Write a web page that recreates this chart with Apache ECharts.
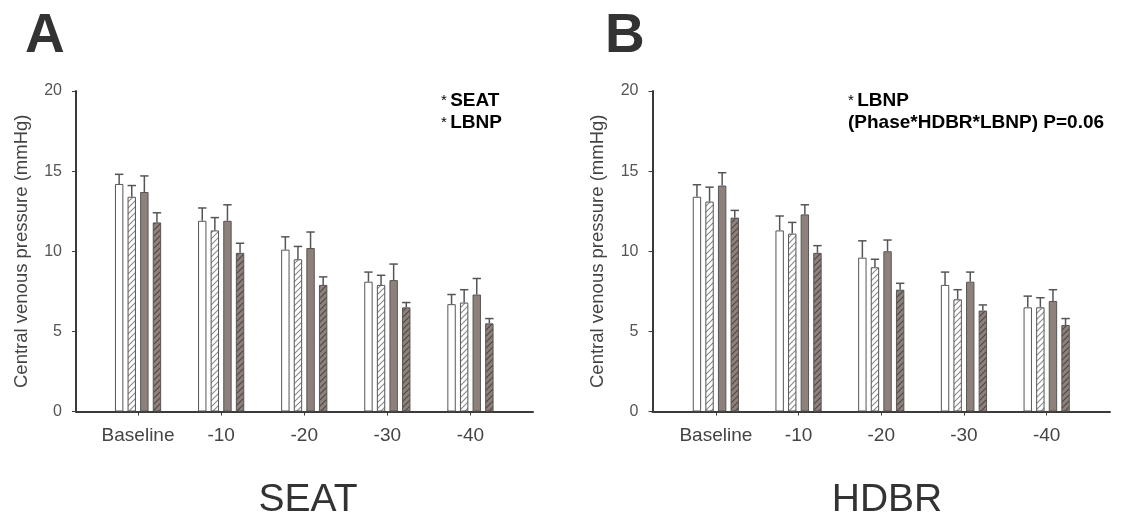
<!DOCTYPE html>
<html>
<head>
<meta charset="utf-8">
<script src="https://cdn.jsdelivr.net/npm/echarts@6/dist/echarts.min.js"></script>
<style>
  html, body { margin: 0; padding: 0; background: #fff; }
  #chart { width: 1128px; height: 522px; }
</style>
</head>
<body>
<div id="chart"></div>
<script>
// data
var categories = ["Baseline", "-10", "-20", "-30", "-40"];
var yTicks = [0, 5, 10, 15, 20];

// SEAT panel, four groups of bars (means) and error (SD)
var seatMean1 = [14.2, 11.9, 10.1, 8.1, 6.7];
var seatMean2 = [13.4, 11.3, 9.5, 7.9, 6.8];
var seatMean3 = [13.7, 11.9, 10.2, 8.2, 7.3];
var seatMean4 = [11.8, 9.9, 7.9, 6.5, 5.5];
var seatSd1 = [0.6, 0.8, 0.8, 0.6, 0.6];
var seatSd2 = [0.7, 0.8, 0.8, 0.6, 0.8];
var seatSd3 = [1.0, 1.0, 1.0, 1.0, 1.0];
var seatSd4 = [0.6, 0.6, 0.5, 0.3, 0.3];

// HDBR panel
var hdbrMean1 = [13.4, 11.3, 9.6, 7.9, 6.5];
var hdbrMean2 = [13.1, 11.1, 9.0, 7.0, 6.5];
var hdbrMean3 = [14.1, 12.3, 10.0, 8.1, 6.9];
var hdbrMean4 = [12.1, 9.9, 7.6, 6.3, 5.4];
var hdbrSd1 = [0.75, 0.9, 1.05, 0.8, 0.7];
var hdbrSd2 = [0.9, 0.7, 0.5, 0.6, 0.6];
var hdbrSd3 = [0.8, 0.6, 0.7, 0.6, 0.7];
var hdbrSd4 = [0.45, 0.45, 0.4, 0.35, 0.4];

var FONT = "Liberation Sans, Arial, sans-serif";
var DARK = "#3a3a3a";
var BROWN = "#8e817c";
var BAR_W = 8.4;
var BAR_GAP = 0.5;

function hatch(bg, line) {
  var c = document.createElement("canvas");
  c.width = 6;
  c.height = 6;
  var ctx = c.getContext("2d");
  ctx.fillStyle = bg;
  ctx.fillRect(0, 0, 6, 6);
  ctx.strokeStyle = line;
  ctx.lineWidth = 1.1;
  ctx.beginPath();
  ctx.moveTo(-1, 7); ctx.lineTo(7, -1);
  ctx.moveTo(-1, 1); ctx.lineTo(1, -1);
  ctx.moveTo(5, 7); ctx.lineTo(7, 5);
  ctx.stroke();
  return { image: c, repeat: "repeat" };
}

var barStyles = [
  { color: "#ffffff", borderColor: "#555", borderWidth: 1 },
  { color: hatch("#ffffff", "#8a8a8a"), borderColor: "#555", borderWidth: 1 },
  { color: BROWN, borderColor: "#555", borderWidth: 1 },
  { color: hatch(BROWN, "#4e4643"), borderColor: "#555", borderWidth: 1 }
];

function errorSeries(xIdx, yIdx, k, means, sds) {
  var data = [];
  for (var i = 0; i < means.length; i++) data.push([i, means[i], sds[i]]);
  return {
    type: "custom",
    xAxisIndex: xIdx,
    yAxisIndex: yIdx,
    z: 5,
    silent: true,
    data: data,
    renderItem: function (params, api) {
      var pitch = BAR_W * (1 + BAR_GAP);
      var base = api.coord([api.value(0), api.value(1)]);
      var top = api.coord([api.value(0), api.value(1) + api.value(2)]);
      var x = base[0] + (k - 1.5) * pitch;
      var st = { stroke: "#555", lineWidth: 1.5 };
      return {
        type: "group",
        children: [
          { type: "line", shape: { x1: x, y1: base[1], x2: x, y2: top[1] }, style: st },
          { type: "line", shape: { x1: x - BAR_W / 2, y1: top[1], x2: x + BAR_W / 2, y2: top[1] }, style: st }
        ]
      };
    }
  };
}

function panelSeries(xIdx, yIdx, means, sds) {
  var out = [];
  for (var k = 0; k < 4; k++) {
    out.push({
      type: "bar",
      xAxisIndex: xIdx,
      yAxisIndex: yIdx,
      data: means[k],
      barWidth: BAR_W,
      barGap: BAR_GAP * 100 + "%",
      itemStyle: barStyles[k],
      silent: true
    });
  }
  for (var k2 = 0; k2 < 4; k2++) out.push(errorSeries(xIdx, yIdx, k2, means[k2], sds[k2]));
  return out;
}

function outerX(gi) {
  return {
    type: "value", gridIndex: gi, min: 0, max: 1,
    axisLine: { show: true, lineStyle: { color: DARK, width: 2 } },
    axisTick: { show: false }, axisLabel: { show: false }, splitLine: { show: false }
  };
}
function innerX(gi) {
  return {
    type: "category", gridIndex: gi, data: categories,
    axisLine: { show: false },
    axisTick: { show: true, alignWithLabel: true, interval: 0, length: 4, lineStyle: { color: DARK, width: 1 } },
    axisLabel: { color: "#444", fontSize: 19, fontFamily: FONT, margin: 15, interval: 0, hideOverlap: false },
    splitLine: { show: false }
  };
}
function outerY(gi) {
  return {
    type: "value", gridIndex: gi, min: 0, max: 20, interval: 5,
    name: "Central venous pressure (mmHg)", nameLocation: "middle", nameGap: 45,
    nameTextStyle: { color: "#444", fontSize: 18.5, fontFamily: FONT },
    axisLine: { show: true, lineStyle: { color: DARK, width: 2 } },
    axisTick: { show: true, length: 4, lineStyle: { color: DARK, width: 1 } },
    axisLabel: { color: "#555", fontSize: 16, fontFamily: FONT, margin: 14,
      formatter: function (v) { return yTicks.indexOf(v) >= 0 ? String(v) : ""; } },
    splitLine: { show: false }
  };
}
function innerY(gi) {
  return {
    type: "value", gridIndex: gi, min: 0, max: 20, interval: 5, show: false,
    splitLine: { show: false }
  };
}

var chart = echarts.init(document.getElementById("chart"), null, { renderer: "canvas" });

var option = {
  animation: false,
  backgroundColor: "#ffffff",
  grid: [
    { left: 76, top: 91, width: 457, height: 320.5 },
    { left: 96.5, top: 91, width: 415.5, height: 320.5 },
    { left: 652.5, top: 91, width: 457.5, height: 320.5 },
    { left: 674.5, top: 91, width: 413.5, height: 320.5 }
  ],
  xAxis: [outerX(0), innerX(1), outerX(2), innerX(3)],
  yAxis: [outerY(0), innerY(1), outerY(2), innerY(3)],
  title: [
    { text: "A", left: 20, top: 4, textStyle: { fontSize: 55, fontWeight: "bold", color: "#333", fontFamily: FONT } },
    { text: "B", left: 600, top: 4, textStyle: { fontSize: 55, fontWeight: "bold", color: "#333", fontFamily: FONT } },
    { text: "SEAT", left: 303, top: 476, textAlign: "center", textStyle: { fontSize: 39, fontWeight: "normal", color: "#333", fontFamily: FONT } },
    { text: "HDBR", left: 882, top: 476, textAlign: "center", textStyle: { fontSize: 39, fontWeight: "normal", color: "#333", fontFamily: FONT } }
  ],
  graphic: [
    { type: "text", left: 441, top: 91, style: {
      text: "{s|*} {b|SEAT}\n{s|*} {b|LBNP}",
      rich: {
        s: { fontSize: 15, color: "#444", fontFamily: FONT, lineHeight: 22 },
        b: { fontSize: 19, fontWeight: "bold", color: "#333", fontFamily: FONT, lineHeight: 22 }
      } } },
    { type: "text", left: 848, top: 91, style: {
      text: "{s|*} {b|LBNP}\n{b|(Phase*HDBR*LBNP) P=0.06}",
      rich: {
        s: { fontSize: 15, color: "#444", fontFamily: FONT, lineHeight: 22 },
        b: { fontSize: 19, fontWeight: "bold", color: "#333", fontFamily: FONT, lineHeight: 22 }
      } } }
  ],
  series: [].concat(
    panelSeries(1, 1, [seatMean1, seatMean2, seatMean3, seatMean4], [seatSd1, seatSd2, seatSd3, seatSd4]),
    panelSeries(3, 3, [hdbrMean1, hdbrMean2, hdbrMean3, hdbrMean4], [hdbrSd1, hdbrSd2, hdbrSd3, hdbrSd4])
  )
};
option && chart.setOption(option);
</script>
</body>
</html>
